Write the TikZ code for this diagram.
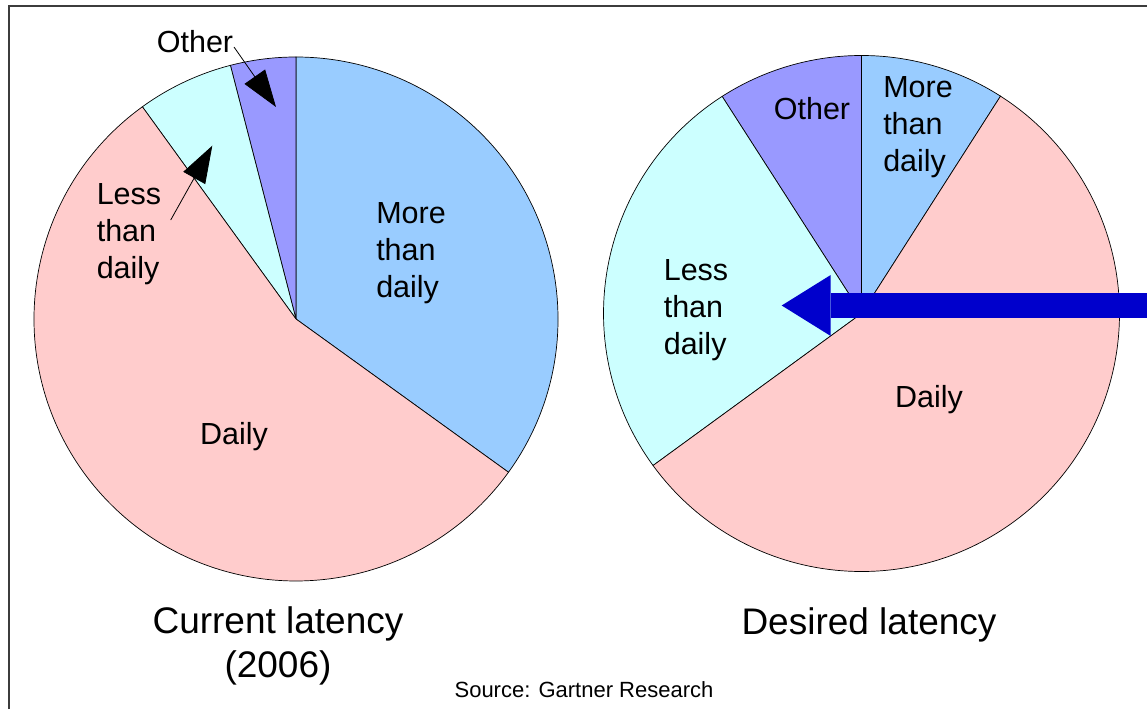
\documentclass[tikz,border=0pt]{standalone}
\usepackage{fontspec}
\setmainfont{Liberation Sans}
\usetikzlibrary{arrows.meta}
\definecolor{more}{HTML}{99CCFF}
\definecolor{daily}{HTML}{FFCCCC}
\definecolor{less}{HTML}{CCFFFF}
\definecolor{other}{HTML}{9999FF}
\definecolor{framegray}{HTML}{3C3C3C}
\definecolor{arrowblue}{HTML}{0000CC}
\begin{document}
\begin{tikzpicture}[x=1pt,y=1pt,
  slice/.style={draw=black,line width=0.7pt},
  lbl/.style={font=\fontsize{30.5}{37}\selectfont,align=left,inner sep=0pt},
  title/.style={font=\fontsize{37}{44}\selectfont,align=center,inner sep=0pt},
  pointer/.style={line width=0.8pt,-{Triangle[length=37pt,width=25pt]}}]
\useasboundingbox (0,0) rectangle (1147,709);
\draw[framegray,line width=2pt] (8.7,0)--(8.7,703.4)--(1147,703.4);
\coordinate (L) at (296,390);
\coordinate (R) at (861.5,395.5);
% current latency
\foreach \a/\b/\c in {-35.8/90/more,90/104.5/other,104.5/125.9/less,125.9/324.2/daily}
\filldraw[slice,fill=\c] (L) -- ++(\a:262) arc (\a:\b:262) -- cycle;
% desired latency
\foreach \a/\b/\c in {57.4/90/more,90/122.7/other,122.7/216.1/less,216.1/417.4/daily}
\filldraw[slice,fill=\c] (R) -- ++(\a:258) arc (\a:\b:258) -- cycle;
\node[lbl] (Lmore) at (411,456) {More\\than\\daily};
\node[lbl] (Ldaily) at (234,272) {Daily};
\node[lbl] (Lless) at (129,475) {Less\\than\\daily};
\node[lbl] (Lother) at (195,667) {Other};
\coordinate (Os) at (234,662);
\coordinate (Ot) at (276,602);
\coordinate (Ls) at (170.7,489);
\coordinate (Lt) at (212.3,563.3);
\draw[pointer] (Os)--(Ot);
\draw[pointer] (Ls)--(Lt);
\node[lbl] (Rmore) at (918,581.5) {More\\than\\daily};
\node[lbl] (Rdaily) at (929,309) {Daily};
\node[lbl] (Rless) at (696,399) {Less\\than\\daily};
\node[lbl] (Rother) at (812,600) {Other};
\coordinate (Bs) at (1147,403.5);
\coordinate (Bt) at (781.7,403.5);
\draw[arrowblue,line width=25.6pt,-{Triangle[length=49pt,width=61pt,line width=0pt]}] (Bs)--(Bt);
\node[title] (cur) at (278,63) {Current latency\\(2006)};
\node[title] (des) at (869,84) {Desired latency};
\node[font=\fontsize{22}{26}\selectfont,inner sep=0pt] (src) at (584,19) {Source: Gartner Research};
\end{tikzpicture}
\end{document}
